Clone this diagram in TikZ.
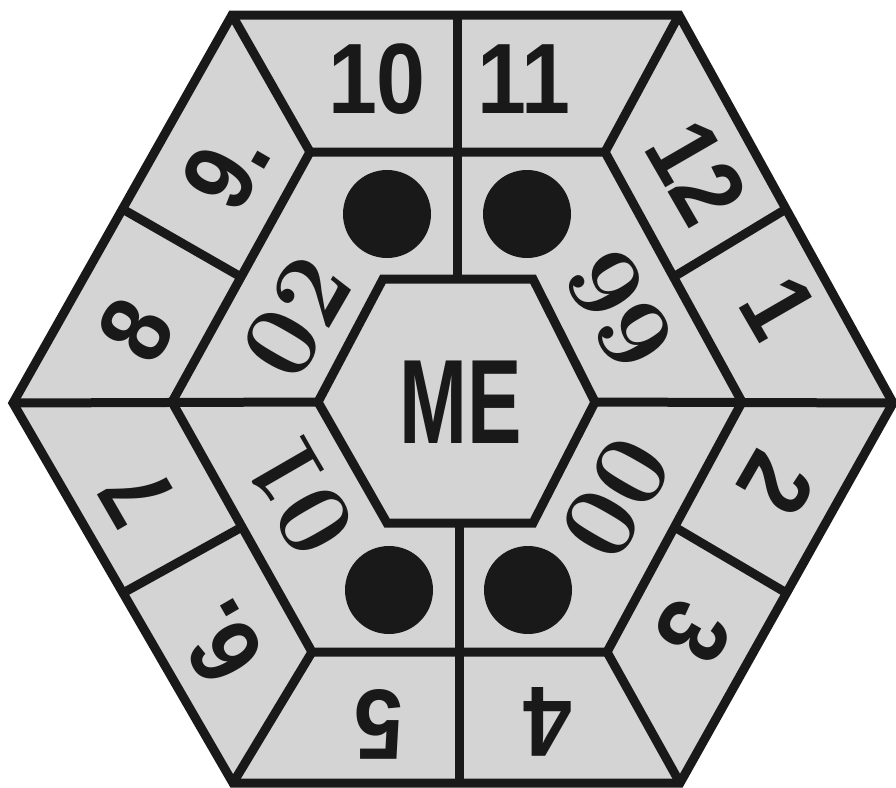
\documentclass[tikz,border=0pt]{standalone}
\usepackage{fontspec}
\usepackage{graphicx}
\usetikzlibrary{calc}
\newfontfamily\numfont{Liberation Sans}
\definecolor{panel}{gray}{0.83}
\definecolor{ink}{gray}{0.1}
\newcommand\cnd[2]{\scalebox{#1}[1]{#2}}
\tikzset{
  wall/.style={draw=ink, line width=9pt, line join=miter},
  bignum/.style={inner sep=0pt, text=ink, font=\numfont\bfseries\fontsize{100}{100}\selectfont},
  sernum/.style={inner sep=0pt, text=ink, font=\bfseries\fontsize{105}{105}\selectfont},
  dot/.style={circle, fill=ink, inner sep=0pt, minimum size=88pt},
}
\begin{document}
\begin{tikzpicture}[x=1pt,y=-1pt]
\useasboundingbox (0,0) rectangle (896,787);
% outer hexagon
\coordinate (O1) at (13,403);
\coordinate (O2) at (232,15);
\coordinate (O3) at (679,15);
\coordinate (O4) at (893,403);
\coordinate (O5) at (680,783);
\coordinate (O6) at (233,783);
% middle hexagon
\coordinate (M1) at (172,402);
\coordinate (M2) at (310,152);
\coordinate (M3) at (605,152);
\coordinate (M4) at (742,402);
\coordinate (M5) at (607,652);
\coordinate (M6) at (312,652);
% inner hexagon
\coordinate (I1) at (318,402);
\coordinate (I2) at (383,279);
\coordinate (I3) at (533,279);
\coordinate (I4) at (595,402);
\coordinate (I5) at (533,523);
\coordinate (I6) at (387,523);
% vertical dividers
\coordinate (T1) at (457,15);
\coordinate (T2) at (457,279);
\coordinate (B1) at (459,523);
\coordinate (B2) at (459,783);

\fill[panel] (O1) -- (O2) -- (O3) -- (O4) -- (O5) -- (O6) -- cycle;

% dividers
\draw[wall] (O1) -- (I1);
\draw[wall] (I4) -- (O4);
\draw[wall] (T1) -- (T2);
\draw[wall] (B1) -- (B2);
\draw[wall] (O2) -- (M2);
\draw[wall] (O3) -- (M3);
\draw[wall] (O5) -- (M5);
\draw[wall] (O6) -- (M6);
\draw[wall] ($(O1)!0.5!(O2)$) -- ($(M1)!0.5!(M2)$);
\draw[wall] ($(O3)!0.5!(O4)$) -- ($(M3)!0.5!(M4)$);
\draw[wall] ($(O4)!0.5!(O5)$) -- ($(M4)!0.5!(M5)$);
\draw[wall] ($(O6)!0.5!(O1)$) -- ($(M6)!0.5!(M1)$);
% hexagons
\draw[wall] (M1) -- (M2) -- (M3) -- (M4) -- (M5) -- (M6) -- cycle;
\draw[wall] (I1) -- (I2) -- (I3) -- (I4) -- (I5) -- (I6) -- cycle;
\draw[wall] (O1) -- (O2) -- (O3) -- (O4) -- (O5) -- (O6) -- cycle;

% outer band numbers
\node[bignum] (n10) at (377,79) {\cnd{0.88}{10}};
\node[bignum] (n11) at (524,79) {\cnd{0.88}{11}};
\node[bignum, rotate=-60] (n12) at (697,172) {\cnd{0.88}{12}};
\node[bignum, rotate=-60] (n1) at (779,307) {\cnd{0.88}{1}};
\node[bignum, rotate=-120] (n2) at (776,484) {\cnd{0.88}{2}};
\node[bignum, rotate=-120] (n3) at (693,632) {\cnd{0.88}{3}};
\node[bignum, rotate=180] (n4) at (548,722) {\cnd{0.88}{4}};
\node[bignum, rotate=180] (n5) at (379,724) {\cnd{0.88}{5}};
\node[bignum, rotate=120] (n6) at (219,642) {\cnd{0.88}{6.}};
\node[bignum, rotate=120] (n7) at (137,495) {\cnd{0.88}{7}};
\node[bignum, rotate=60] (n8) at (136,330) {\cnd{0.88}{8}};
\node[bignum, rotate=60] (n9) at (226,168) {\cnd{0.88}{9.}};

% centre
\node[bignum, font=\numfont\bfseries\fontsize{120}{120}\selectfont] (me) at (461,402) {\cnd{0.68}{ME}};

% middle ring
\node[dot] (d1) at (387,214) {};
\node[dot] (d2) at (527,214) {};
\node[dot] (d3) at (389,590) {};
\node[dot] (d4) at (528,590) {};
\node[sernum, rotate=60] (s02) at (297,317) {02};
\node[sernum, rotate=-60] (s99) at (620,310) {99};
\node[sernum, rotate=120] (s01) at (300,495) {01};
\node[sernum, rotate=-120] (s00) at (616,498) {00};
\end{tikzpicture}
\end{document}
